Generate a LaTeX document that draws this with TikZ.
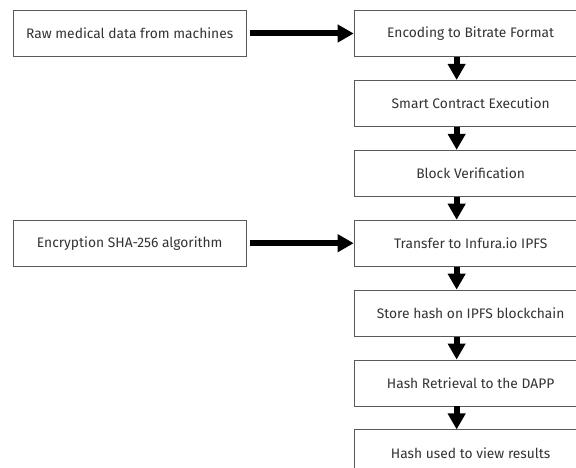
\documentclass[tikz,border=0pt]{standalone}
\usepackage{fontspec}
\setmainfont{Fira Sans}
\usetikzlibrary{positioning,arrows.meta}

\begin{document}
\begin{tikzpicture}[x=1pt,y=1pt,
    box/.style={draw=black!65,line width=0.9pt,minimum width=233pt,minimum height=46pt,
      inner sep=0pt,text=black!80,font=\fontsize{13.8}{16}\selectfont},
    flow/.style={line width=6pt,-{Triangle[length=16pt,width=17pt]}}]
    \useasboundingbox (0,0) rectangle (576,-468);
    % Input boxes
    \node[box] (raw) at (129.75,-33.5) {Raw medical data from machines};
    % Main chain
    \node[box,right=107pt of raw] (enc) {Encoding to Bitrate Format};
    \node[box,below=23pt of enc] (smart) {Smart Contract Execution};
    \node[box,below=23pt of smart] (verify) {Block Verification};
    \node[box,below=23pt of verify] (transfer) {Transfer to Infura.io IPFS};
    \node[box,below=23pt of transfer] (store) {Store hash on IPFS blockchain};
    \node[box,below=23pt of store] (retrieve) {Hash Retrieval to the DAPP};
    \node[box,below=23pt of retrieve] (view) {Hash used to view results};
    % Encryption
    \node[box,left=107pt of transfer] (sha) {Encryption SHA-256 algorithm};
    % Arrows
    \draw[flow,shorten <=3pt] (raw) -- (enc);
    \draw[flow,shorten <=3pt] (sha) -- (transfer);
    \draw[flow] ([xshift=-14pt]enc.south) -- ([xshift=-14pt]smart.north);
    \draw[flow] ([xshift=-14pt]smart.south) -- ([xshift=-14pt]verify.north);
    \draw[flow] ([xshift=-14pt]verify.south) -- ([xshift=-14pt]transfer.north);
    \draw[flow] ([xshift=-14pt]transfer.south) -- ([xshift=-14pt]store.north);
    \draw[flow] ([xshift=-14pt]store.south) -- ([xshift=-14pt]retrieve.north);
    \draw[flow] ([xshift=-14pt]retrieve.south) -- ([xshift=-14pt]view.north);
\end{tikzpicture}
\end{document}
